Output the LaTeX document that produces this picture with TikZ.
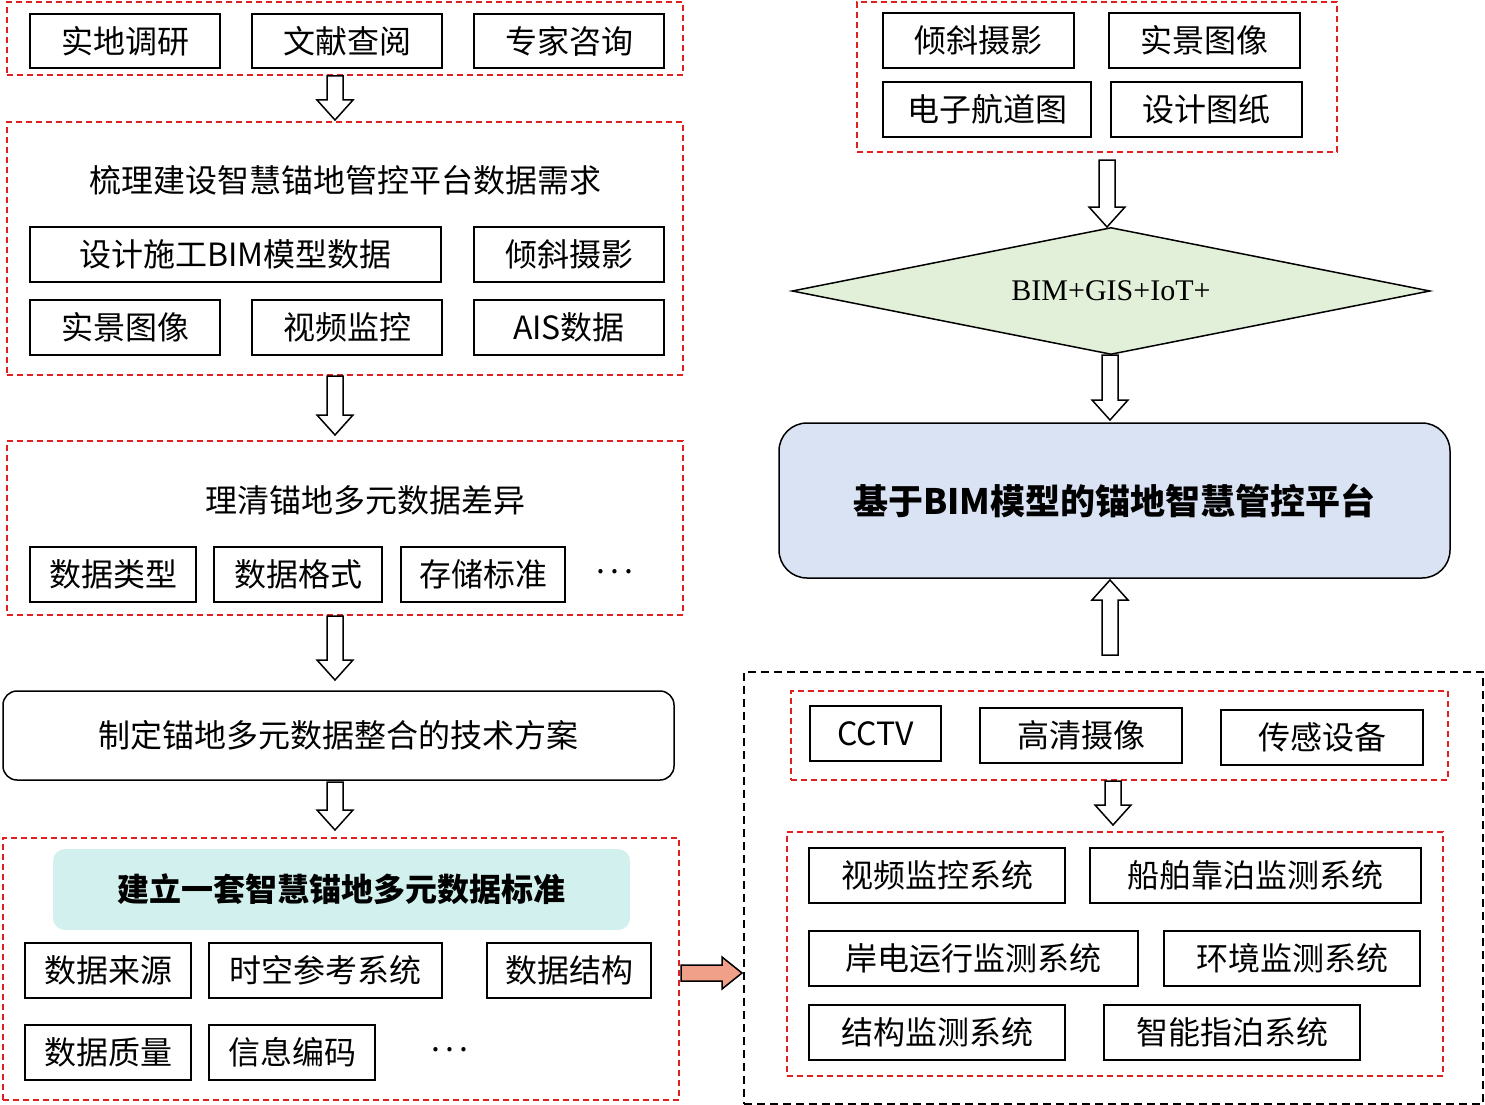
\documentclass[tikz,border=0pt]{standalone}
\usepackage{fontspec}
\setmainfont{Liberation Serif}
\newfontfamily\cjk{Noto Sans CJK SC}
\usetikzlibrary{shapes.geometric}
\definecolor{rd}{HTML}{E02020}
\definecolor{pf}{HTML}{DAE3F3}
\definecolor{df}{HTML}{E2F0D9}
\definecolor{tf}{HTML}{D2F1EE}
\definecolor{sa}{HTML}{F0A088}
\tikzset{
 bx/.style={draw,line width=1.5pt,inner sep=0pt,font=\cjk\fontsize{32}{38}\selectfont},
 grp/.style={draw=rd,line width=1.3pt,dash pattern=on 6pt off 4pt},
 ttl/.style={font=\cjk\fontsize{32}{38}\selectfont},
 harr/.style={draw,line width=1.5pt,fill=white}
}
\newcommand\B[6]{\node[bx,minimum width={#4pt-#2pt},minimum height={#5pt-#3pt}] (#1) at ({(#2+#4)/2},{(#3+#5)/2}) {#6};}
\newcommand\G[5]{\node[grp,inner sep=0pt,minimum width={#4pt-#2pt},minimum height={#5pt-#3pt}] (#1) at ({(#2+#4)/2},{(#3+#5)/2}) {};}
\newcommand\HA[4]{\draw[harr] ({#1-8},#2) -- ({#1+8},#2) -- ({#1+8},{#3-20*#4}) -- ({#1+18},{#3-20*#4}) -- (#1,#3) -- ({#1-18},{#3-20*#4}) -- ({#1-8},{#3-20*#4}) -- cycle;}
\begin{document}
\begin{tikzpicture}[x=1pt,y=-1pt]
\useasboundingbox (0,0) rectangle (1485,1105);
\G{g1}{7}{2}{683}{75}
\B{a1}{30}{14}{220}{68}{实地调研}
\B{a2}{252}{14}{442}{68}{文献查阅}
\B{a3}{474}{14}{664}{68}{专家咨询}
\HA{335}{76}{120}{1}
\G{g2}{7}{122}{683}{375}
\node[ttl] (t2) at (345,180) {梳理建设智慧锚地管控平台数据需求};
\B{b1}{30}{227}{441}{282}{设计施工BIM模型数据}
\B{b2}{474}{227}{664}{282}{倾斜摄影}
\B{b3}{30}{300}{220}{355}{实景图像}
\B{b4}{252}{300}{442}{355}{视频监控}
\B{b5}{474}{300}{664}{355}{AIS数据}
\HA{335}{376}{435}{1}
\G{g3}{7}{441}{683}{615}
\node[ttl] (t3) at (365,500) {理清锚地多元数据差异};
\B{c1}{30}{547}{196}{602}{数据类型}
\B{c2}{214}{547}{382}{602}{数据格式}
\B{c3}{401}{547}{565}{602}{存储标准}
\node[ttl] (c4) at (615,572) {.\,.\,.};
\HA{335}{616}{680}{1}
\node[bx,rounded corners=14pt,minimum width=671pt,minimum height=89pt] (d) at (338.5,735.5) {制定锚地多元数据整合的技术方案};
\HA{335}{782}{830}{1}
\node[grp,line width=1.8pt,inner sep=0pt,minimum width=676pt,minimum height=262pt] (g5) at (341,969) {};
\node[fill=tf,rounded corners=12pt,minimum width=577pt,minimum height=81pt,font=\cjk\bfseries\fontsize{32}{38}\selectfont] (e0) at (341.5,889.5) {建立一套智慧锚地多元数据标准};
\B{e1}{25}{943}{191}{998}{数据来源}
\B{e2}{209}{943}{442}{998}{时空参考系统}
\B{e3}{487}{943}{651}{998}{数据结构}
\B{e4}{25}{1025}{191}{1080}{数据质量}
\B{e5}{209}{1025}{375}{1080}{信息编码}
\node[ttl] (e6) at (450,1050) {.\,.\,.};
\draw[line width=1.5pt,fill=sa] (681,965) -- (722,965) -- (722,957) -- (742,973) -- (722,989) -- (722,981) -- (681,981) -- cycle;
\G{g6}{857}{2}{1337}{152}
\B{f1}{883}{13}{1074}{68}{倾斜摄影}
\B{f2}{1109}{13}{1300}{68}{实景图像}
\B{f3}{883}{82}{1091}{137}{电子航道图}
\B{f4}{1111}{82}{1302}{137}{设计图纸}
\HA{1107}{160}{227}{1}
\node[diamond,draw,line width=1.5pt,fill=df,aspect=5,inner sep=0pt,minimum width=638pt,minimum height=127pt,font=\fontsize{30}{36}\selectfont] (dm) at (1111,291) {BIM+GIS+IoT+};
\HA{1110}{355}{420}{1}
\node[draw,line width=1.5pt,rounded corners=28pt,fill=pf,minimum width=671pt,minimum height=155pt,font=\cjk\bfseries\fontsize{35}{42}\selectfont] (p) at (1114.5,500.5) {基于BIM模型的锚地智慧管控平台};
\HA{1110}{655}{580}{-1}
\node[draw,line width=1.8pt,dash pattern=on 8pt off 5pt,inner sep=0pt,minimum width=739pt,minimum height=432pt] (g7) at (1113.5,888) {};
\G{g8}{791}{691}{1448}{780}
\B{h1}{810}{706}{941}{761}{CCTV}
\B{h2}{980}{708}{1182}{763}{高清摄像}
\B{h3}{1221}{710}{1423}{765}{传感设备}
\HA{1113}{781}{825}{1}
\G{g9}{787}{832}{1443}{1076}
\B{k1}{809}{848}{1065}{903}{视频监控系统}
\B{k2}{1090}{848}{1421}{903}{船舶靠泊监测系统}
\B{k3}{809}{931}{1138}{986}{岸电运行监测系统}
\B{k4}{1164}{931}{1420}{986}{环境监测系统}
\B{k5}{809}{1005}{1065}{1060}{结构监测系统}
\B{k6}{1104}{1005}{1360}{1060}{智能指泊系统}
\end{tikzpicture}
\end{document}
